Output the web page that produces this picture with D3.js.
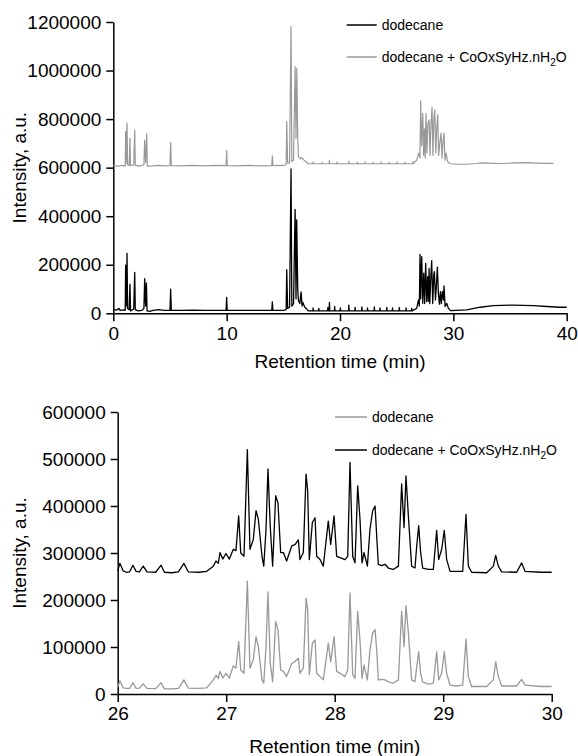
<!DOCTYPE html>
<html><head><meta charset="utf-8">
<script src="https://cdn.jsdelivr.net/npm/d3@7"></script>
<style>
body{margin:0;background:#fff}
svg{display:block}
text{font-family:"Liberation Sans",Arial,Helvetica,sans-serif;fill:#000}
</style>
</head><body>
<svg id="c" width="578" height="756"></svg>
<script>
// ---------------- DATA ----------------
const topXTicks = [0, 10, 20, 30, 40];
const topYTicks = [0, 200000, 400000, 600000, 800000, 1000000, 1200000];
const botXTicks = [26, 27, 28, 29, 30];
const botYTicks = [0, 100000, 200000, 300000, 400000, 500000, 600000];
const seriesNames = ["dodecane", "dodecane + CoOxSyHz.nH2O"];

// Top panel, full run (min, intensity); "dodecane" (black)
const topDodecane = [
[0,15000],[0.3,13000],[0.5,20000],[0.6,12000],[0.9,14000],[1.05,12000],[1.09,198000],[1.13,30000],[1.18,120000],[1.21,247000],[1.26,20000],
[1.4,15000],[1.47,120000],[1.52,10000],[1.8,18000],[1.89,168000],[1.94,15000],[2.2,10000],[2.5,12000],[2.7,20000],[2.77,143000],[2.85,30000],
[2.92,125000],[2.98,10000],[3.2,8000],[3.5,12000],[4.0,15000],[4.5,12000],[5.0,12000],[5.06,99000],[5.12,12000],[6,12000],[7,13000],[8,12000],
[9,12000],[9.95,12000],[10.0,65000],[10.05,12000],[11,12000],[12,12000],[13,12000],[13.98,12000],[14.03,47000],[14.08,12000],[15.0,12000],
[15.25,15000],[15.3,180000],[15.38,20000],[15.55,25000],[15.68,595000],[15.75,30000],[15.9,40000],[16.04,428000],[16.12,60000],[16.18,385000],
[16.27,100000],[16.33,54000],[16.45,40000],[16.57,88000],[16.65,30000],[16.71,45000],[16.9,25000],[17.06,18000],[17.2,10000],
[17.6,10000],[17.63,22000],[17.66,10000],[18.1,10000],[18.13,20000],[18.16,10000],[18.9,10000],[18.93,24000],[18.96,10000],
[19.04,10000],[19.07,45000],[19.1,10000],[19.5,10000],[19.53,28000],[19.56,10000],[20.0,10000],[20.03,22000],[20.06,10000],
[20.75,10000],[20.78,34000],[20.81,10000],[21.3,10000],[21.33,24000],[21.36,10000],[21.9,10000],[21.93,26000],[21.96,10000],
[22.4,10000],[22.43,22000],[22.46,10000],[23.0,10000],[23.03,26000],[23.06,10000],[23.5,10000],[23.53,22000],[23.56,10000],
[24.1,10000],[24.13,24000],[24.16,10000],[24.6,10000],[24.63,22000],[24.66,10000],[25.2,10000],[25.23,24000],[25.26,10000],
[25.8,10000],[25.83,22000],[25.86,10000],[26.3,10000],[26.33,20000],[26.36,10000],
[26.77,21000],[26.92,55000],[27.0,30000],
[27.06,243000],[27.12,60000],[27.15,137000],[27.21,233000],[27.3,41000],[27.39,165000],[27.47,40000],[27.56,206000],[27.65,48000],[27.74,151000],
[27.8,50000],[27.86,185000],[27.92,40000],[28.0,137000],[28.09,217000],[28.18,40000],[28.27,158000],[28.33,172000],[28.42,55000],[28.5,110000],
[28.59,190000],[28.68,82000],[28.77,38000],[28.86,89000],[28.94,40000],[29.03,89000],[29.12,55000],[29.18,113000],[29.27,28000],[29.42,41000],
[29.56,21000],[29.77,11000],[31.18,14000],[32.36,25000],[33.53,32000],[35.3,34000],[37.06,32000],[38.24,28000],[39.41,25000],[40.0,25000]
];

// Top panel, "dodecane + CoOxSyHz.nH2O" (grey)
const topCobalt = [
[0,610000],[0.4,606000],[0.7,609000],[1.0,607000],[1.05,606000],[1.09,748000],[1.13,618000],[1.18,700000],[1.21,785000],[1.26,612000],
[1.4,609000],[1.47,721000],[1.52,608000],[1.8,611000],[1.89,755000],[1.94,609000],[2.3,606000],[2.7,612000],[2.77,714000],[2.85,620000],
[2.95,739000],[3.0,606000],[3.5,607000],[4.0,609000],[4.5,607000],[5.0,608000],[5.06,703000],[5.12,608000],[6,607000],[7,609000],[8,607000],
[9,609000],[9.95,608000],[10.0,670000],[10.05,608000],[11,607000],[12,609000],[13,607000],[13.98,608000],[14.03,649000],[14.08,608000],
[15.0,609000],[15.25,612000],[15.3,790000],[15.38,620000],[15.55,618000],[15.68,1181000],[15.75,625000],[15.9,632000],[16.04,1016000],
[16.12,720000],[16.19,1010000],[16.27,730000],[16.33,645000],[16.5,636000],[16.62,642000],[16.8,632000],[17.0,624000],[17.2,616000],
[17.6,616000],[17.63,624000],[17.66,616000],[18.4,616000],[18.43,622000],[18.46,616000],[19.04,616000],[19.07,630000],[19.1,616000],
[19.7,616000],[19.73,623000],[19.76,616000],[20.75,616000],[20.78,626000],[20.81,616000],[21.5,616000],[21.53,623000],[21.56,616000],
[22.2,616000],[22.23,624000],[22.26,616000],[22.9,616000],[22.93,622000],[22.96,616000],[23.6,616000],[23.63,624000],[23.66,616000],
[24.3,616000],[24.33,622000],[24.36,616000],[25.0,616000],[25.03,624000],[25.06,616000],[25.7,616000],[25.73,622000],[25.76,616000],
[26.4,616000],[26.43,624000],[26.46,616000],
[26.78,632000],[26.95,660000],[27.05,640000],[27.12,875000],[27.2,690000],[27.3,824000],[27.38,650000],[27.45,760000],
[27.52,640000],[27.59,823000],[27.67,660000],[27.75,780000],[27.86,797000],[27.94,650000],[28.02,770000],[28.12,849000],[28.2,650000],
[28.28,800000],[28.36,838000],[28.45,660000],[28.53,760000],[28.62,817000],[28.7,650000],[28.8,700000],[28.92,742000],[29.0,640000],
[29.08,700000],[29.18,742000],[29.26,630000],[29.35,660000],[29.5,625000],[29.71,616000],[30.5,614000],[31.2,614000],[32.0,617000],
[32.5,620000],[33.5,618000],[34.5,617000],[35.3,620000],[36.5,621000],[37.5,619000],[38.2,618000],[38.84,618000]
];

// Bottom panel (26-30 min zoom)
const botTime = [
26.00,26.02,26.05,26.08,26.11,26.14,26.17,26.20,26.235,26.27,26.35,26.40,26.43,26.50,26.56,26.61,26.65,26.75,26.82,26.881,
26.906,26.927,26.943,26.968,26.998,27.029,27.066,27.090,27.115,27.134,27.164,27.195,27.219,27.250,27.275,27.296,27.330,27.346,27.367,27.385,
27.406,27.428,27.456,27.477,27.502,27.527,27.557,27.604,27.634,27.665,27.680,27.711,27.736,27.751,27.766,27.794,27.819,27.834,27.865,27.895,
27.941,27.963,27.994,28.018,28.049,28.095,28.120,28.141,28.166,28.187,28.212,28.233,28.252,28.270,28.301,28.325,28.350,28.372,28.387,28.402,
28.433,28.464,28.494,28.540,28.587,28.617,28.639,28.657,28.679,28.709,28.740,28.756,28.774,28.792,28.811,28.863,28.909,28.940,28.958,28.986,
29.010,29.032,29.063,29.124,29.180,29.210,29.232,29.262,29.401,29.462,29.484,29.508,29.539,29.677,29.723,29.754,29.90,30.00
];
const botDodecane = [
14000,28000,13000,12000,12000,24000,12000,12500,21500,12000,11500,24000,11000,11000,12000,30000,12500,12000,13000,30000,
40000,33000,48000,34000,44000,34000,60000,55000,112000,51000,44000,240000,55000,73000,122000,101000,30000,23000,101000,217000,
66000,26000,154000,137000,51000,48000,37000,65000,69000,76000,44000,55000,204000,180000,41000,108000,115000,44000,37000,30000,
108000,69000,122000,48000,44000,37000,51000,215000,41000,33000,176000,115000,33000,62000,30000,94000,130000,137000,94000,30000,
31000,30000,26000,23000,30000,176000,101000,188000,130000,30000,26000,58000,90000,44000,26000,21000,23000,90000,30000,44000,
90000,44000,19000,17000,19000,117000,37000,16000,16000,30000,69000,37000,17000,17000,31000,19000,16000,16000
];
const botCobalt = [
262000,278000,262000,259000,260000,274000,261000,260000,272000,260000,259000,274000,259000,258000,260000,278000,260000,259000,261000,272000,
283000,278000,301000,287000,299000,287000,308000,305000,379000,300000,293000,520000,308000,329000,390000,372000,293000,272000,350000,479000,
357000,272000,422000,407000,301000,301000,283000,315000,318000,328000,286000,301000,468000,432000,286000,365000,375000,293000,286000,272000,
368000,318000,379000,293000,290000,286000,293000,493000,293000,279000,443000,372000,279000,301000,272000,350000,390000,400000,336000,276000,
273000,276000,268000,265000,272000,447000,354000,464000,379000,272000,268000,315000,358000,301000,268000,265000,265000,348000,286000,308000,
348000,286000,261000,261000,261000,382000,272000,259000,258000,272000,295000,272000,260000,259000,279000,261000,259000,259000
];

// ---------------- DRAW ----------------
const GREY = "#999999";
const svg = d3.select("#c");
const fmt = d3.format("d");

function axisStyle(g){
  g.selectAll(".domain").attr("stroke","#000").attr("stroke-width",1.5);
  g.selectAll(".tick line").attr("stroke","#000").attr("stroke-width",1.5);
  g.selectAll(".tick text").attr("font-size",19).attr("font-family",'"Liberation Sans",Arial,sans-serif').attr("fill","#000");
}

function panel(opt){
  const x = d3.scaleLinear().domain(opt.xDomain).range([opt.left, opt.right]);
  const y = d3.scaleLinear().domain(opt.yDomain).range([opt.bottom, opt.top]);
  const gx = svg.append("g").attr("transform",`translate(0,${opt.bottom})`)
    .call(d3.axisBottom(x).tickValues(opt.xTicks).tickSize(8).tickSizeOuter(0).tickPadding(5).tickFormat(fmt));
  axisStyle(gx);
  const gy = svg.append("g").attr("transform",`translate(${opt.left},0)`)
    .call(d3.axisLeft(y).tickValues(opt.yTicks).tickSize(7).tickSizeOuter(0).tickPadding(5).tickFormat(fmt));
  axisStyle(gy);
  const line = d3.line().x(d=>x(d[0])).y(d=>y(d[1]));
  opt.series.forEach(s=>{
    svg.append("path").datum(s.data).attr("d",line).attr("fill","none")
      .attr("stroke",s.color).attr("stroke-width",s.width||1.2).attr("stroke-linejoin","round");
  });
  svg.append("text").attr("x",(opt.left+opt.right)/2).attr("y",opt.xTitleY).attr("text-anchor","middle")
    .attr("font-size",19).text("Retention time (min)");
  svg.append("text").attr("transform",`translate(${opt.yTitleX},${(opt.top+opt.bottom)/2}) rotate(-90)`)
    .attr("text-anchor","middle").attr("font-size",19).text("Intensity, a.u.");
  opt.legend.forEach((l,i)=>{
    const ly = opt.legY + i*opt.legGap;
    svg.append("line").attr("x1",opt.legX).attr("x2",opt.legX+opt.legLen).attr("y1",ly).attr("y2",ly)
      .attr("stroke",l.color).attr("stroke-width",1.5);
    const t = svg.append("text").attr("x",opt.legX+opt.legLen+5).attr("y",ly+5).attr("font-size",14);
    if(l.name.endsWith("H2O")){
      t.append("tspan").text(l.name.slice(0,-2));
      t.append("tspan").attr("dy",4).attr("font-size",10).text("2");
      t.append("tspan").attr("dy",-4).text("O");
    } else t.text(l.name);
  });
}

panel({
  xDomain:[0,40], yDomain:[0,1200000], left:113.3, right:566.7, top:22, bottom:313.3,
  xTicks:topXTicks, yTicks:topYTicks, xTitleY:368, yTitleX:26,
  series:[{data:topCobalt,color:GREY,width:1.2},{data:topDodecane,color:"#000",width:1.3}],
  legend:[{name:seriesNames[0],color:"#000"},{name:seriesNames[1],color:GREY}],
  legX:346.7, legLen:30, legY:25, legGap:32
});

panel({
  xDomain:[26,30], yDomain:[0,600000], left:117.7, right:551.7, top:412, bottom:694,
  xTicks:botXTicks, yTicks:botYTicks, xTitleY:753, yTitleX:26,
  series:[{data:botTime.map((t,i)=>[t,botDodecane[i]]),color:GREY,width:1.3},
          {data:botTime.map((t,i)=>[t,botCobalt[i]]),color:"#000",width:1.3}],
  legend:[{name:seriesNames[0],color:GREY},{name:seriesNames[1],color:"#000"}],
  legX:335, legLen:32, legY:417, legGap:33
});
</script>
</body></html>
